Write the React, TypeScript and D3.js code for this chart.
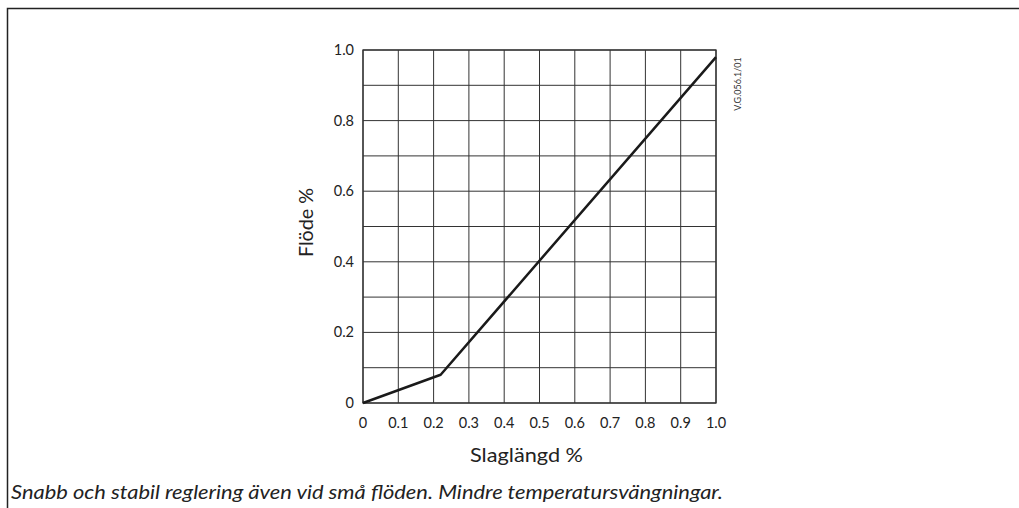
import React from 'react';
import * as d3 from 'd3';

// Curve: flow vs stroke
const strokeVals = [0, 0.22, 1.0];
const flowVals = [0, 0.08, 0.98];

const xTickLabels = ['0', '0.1', '0.2', '0.3', '0.4', '0.5', '0.6', '0.7', '0.8', '0.9', '1.0'];
const yTickLabels = ['0', '0.2', '0.4', '0.6', '0.8', '1.0'];
const gridSteps = d3.range(0, 11).map(i => i / 10);

const W = 1019;
const H = 508;
const font = 'Lato, "Open Sans", sans-serif';

const App: React.FC = () => {
  const x = d3.scaleLinear().domain([0, 1]).range([363, 716]);
  const y = d3.scaleLinear().domain([0, 1]).range([403, 50]);

  const line = d3.line<number>()
    .x((_, i) => x(strokeVals[i]))
    .y(d => y(d));

  return (
    <div style={{ position: 'fixed', left: 0, top: 0 }}>
      <svg width={W} height={H} style={{ display: 'block', background: '#fff' }}>
        {/* outer frame: top + left */}
        <path d={`M7.5,${H} V8.5 H${W}`} fill="none" stroke="#222" strokeWidth={1.5} />

        {/* grid */}
        <g stroke="#333" strokeWidth={1}>
          {gridSteps.map(v => (
            <line key={'gx' + v} x1={x(v)} x2={x(v)} y1={y(0)} y2={y(1)} />
          ))}
          {gridSteps.map(v => (
            <line key={'gy' + v} x1={x(0)} x2={x(1)} y1={y(v)} y2={y(v)} />
          ))}
        </g>
        <rect x={x(0)} y={y(1)} width={x(1) - x(0)} height={y(0) - y(1)}
          fill="none" stroke="#333" strokeWidth={1.3} />

        {/* curve */}
        <path d={line(flowVals) || ''} fill="none" stroke="#1a1a1a" strokeWidth={2.5} strokeLinejoin="round" />

        {/* y ticks */}
        <g fontFamily={font} fontSize={14.5} fill="#222" textAnchor="end">
          {yTickLabels.map(t => (
            <text key={t} x={354} y={y(+t)} dy="0.35em">{t}</text>
          ))}
        </g>
        {/* x ticks */}
        <g fontFamily={font} fontSize={14.5} fill="#222" textAnchor="middle">
          {xTickLabels.map(t => (
            <text key={t} x={x(+t)} y={428}>{t}</text>
          ))}
        </g>

        {/* axis titles */}
        <text x={470} y={462} fontFamily={font} fontSize={20} fill="#222"
          textLength={113} lengthAdjust="spacingAndGlyphs">Slaglängd %</text>
        <text transform="translate(313,257) rotate(-90)" fontFamily={font} fontSize={20} fill="#222"
          textLength={69} lengthAdjust="spacingAndGlyphs">Flöde %</text>

        {/* drawing id */}
        <text transform="translate(741,84) rotate(-90)" textAnchor="middle"
          fontFamily={font} fontSize={9} fill="#333">V.G.056.1/01</text>

        {/* caption */}
        <text x={11} y={499} fontFamily={font} fontStyle="italic" fontSize={20} fill="#222"
          textLength={712} lengthAdjust="spacingAndGlyphs">
          Snabb och stabil reglering även vid små flöden. Mindre temperatursvängningar.
        </text>
      </svg>
    </div>
  );
};

export default App;
